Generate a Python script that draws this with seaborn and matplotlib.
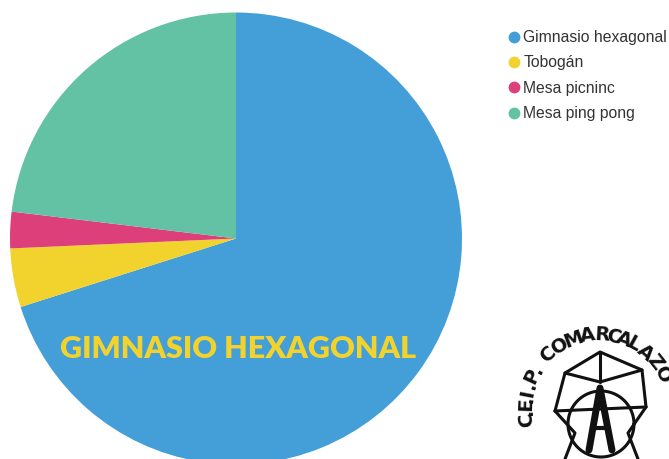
import numpy as np
import matplotlib
matplotlib.use("Agg")
import matplotlib.pyplot as plt
from matplotlib.lines import Line2D
import seaborn as sns

# datos del gráfico (porcentaje de votos)
labels = ["Gimnasio hexagonal", "Tobogán", "Mesa picninc", "Mesa ping pong"]
values = [70.1, 4.2, 2.6, 23.1]
colors = ["#449fd8", "#f2d32e", "#dc3f7a", "#63c1a4"]

sns.set_theme(style="white")
plt.rcParams["font.family"] = ["Liberation Sans", "DejaVu Sans"]

W, H = 669, 459
fig = plt.figure(figsize=(W / 100, H / 100), dpi=100)

# tarta: centro (236, 238.5) px, radio 226 px
cx, cy, r = 236, 238.5, 226
ax = fig.add_axes([(cx - r) / W, (H - cy - r) / H, 2 * r / W, 2 * r / H])
pal = sns.color_palette(colors)
ax.pie(values, colors=pal, startangle=90, counterclock=False,
       wedgeprops=dict(linewidth=0))
ax.set_xlim(-1, 1)
ax.set_ylim(-1, 1)
ax.set_aspect("equal")
ax.axis("off")

ax.text(0.01, -0.49, "GIMNASIO HEXAGONAL", ha="center", va="center",
        color="#f2d32e", fontsize=22, fontweight="heavy",
        family=["Lato", "DejaVu Sans"])

# leyenda
handles = [Line2D([], [], marker="o", linestyle="", markersize=7.5,
                  markerfacecolor=c, markeredgecolor=c) for c in colors]
fig.legend(handles, labels, loc="upper left", bbox_to_anchor=(506 / W, 1 - 30 / H),
           frameon=False, fontsize=11.3, handletextpad=0.1, labelspacing=0.66,
           handlelength=1.0, borderaxespad=0, borderpad=0, labelcolor="#333333")

# logotipo del colegio (esquina inferior derecha)
lg = fig.add_axes([0, 0, 1, 1], zorder=-1)
lg.set_xlim(0, W)
lg.set_ylim(H, 0)
lg.axis("off")
lg.patch.set_alpha(0)

lcx, lcy, lr = 598, 407, 72
ring = "C.E.I.P.COMARCALAZO"
ring_ang = [189, 183.5, 178, 173.5, 169, 162, 155, 148,
            133, 122, 110, 98, 87, 77, 69, 61,
            49, 38, 26]
for ch, a in zip(ring, ring_ang):
    t = np.radians(a)
    lg.text(lcx + lr * np.cos(t), lcy - lr * np.sin(t), ch, rotation=a - 90,
            ha="center", va="center", fontsize=14, fontweight="bold",
            family=["Liberation Sans Narrow", "DejaVu Sans"], color="#111111")

k = dict(color="#111111", lw=2.2, solid_capstyle="round")
frame = [(555, 411), (565, 373), (600, 352), (642, 370), (646, 407)]
lg.plot([p[0] for p in frame], [p[1] for p in frame], **k)
lg.plot([565, 600, 642], [373, 382, 370], **k)
lg.plot([600, 600], [352, 382], **k)
lg.plot([555, 646], [411, 407], **k)
lg.plot([555, 575, 565], [411, 433, 459], **k)
lg.plot([646, 628, 638], [407, 433, 459], **k)
th = np.linspace(0, 2 * np.pi, 100)
lg.plot(601 + 33 * np.cos(th), 424 + 33 * np.sin(th), **k)
lg.plot([589, 600, 612], [450, 388, 450], color="#111111", lw=5)
lg.plot([594, 607], [428, 428], color="#111111", lw=3)

fig.savefig("out.png", dpi=100, facecolor="white")
